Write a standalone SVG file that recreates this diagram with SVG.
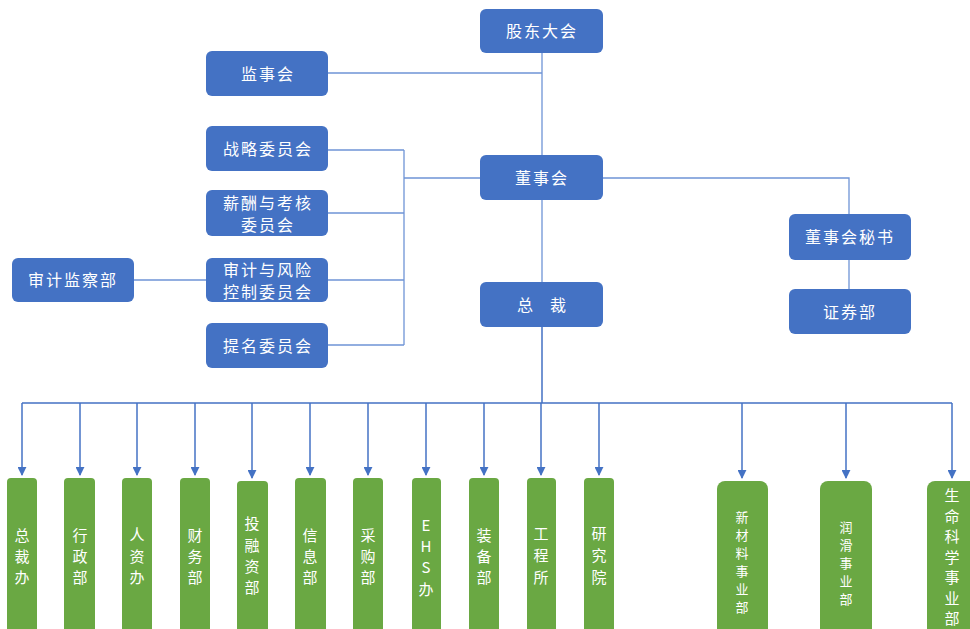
<svg xmlns="http://www.w3.org/2000/svg" width="970" height="629" viewBox="0 0 970 629">
<style>
.b{fill:#4472c4}
.g{fill:#6aa843}
.t{fill:#fff;font-family:"Noto Sans CJK SC","Noto Sans",sans-serif;font-size:16px;letter-spacing:2px;text-anchor:middle}
.v{fill:#fff;font-family:"Noto Sans CJK SC","Noto Sans",sans-serif;font-size:15px;text-anchor:middle}
.s{font-size:13px}
.l{stroke:#6f94d6;stroke-width:1.3;fill:none}
.a{stroke:#4472c4;stroke-width:1.5;fill:none}
</style>
<defs>
<marker id="ar" viewBox="0 0 10 10" refX="9" refY="5" markerWidth="9" markerHeight="9" markerUnits="userSpaceOnUse" orient="auto"><path d="M0,0L10,5L0,10z" fill="#4472c4"/></marker>
</defs>
<rect width="970" height="629" fill="#fff"/>
<g id="connectors">
<path class="l" d="M542,53V155M328,73H542M328,150H404M328,213H404M328,280H404M328,345H404M404,150V345M404,178H480M603,178H849V214M849,260V289M134,280H206M542,200V282"/>
<path class="a" d="M542,327V403M22,403H952"/>
<g class="a" marker-end="url(#ar)">
<path d="M22,403V475"/><path d="M80,403V475"/><path d="M137,403V475"/><path d="M195,403V475"/><path d="M252,403V478"/><path d="M310,403V475"/><path d="M368,403V475"/><path d="M426,403V475"/><path d="M484,403V475"/><path d="M541,403V475"/><path d="M599,403V475"/><path d="M742,403V478"/><path d="M846,403V478"/><path d="M952,403V478"/>
</g>
</g>
<g id="gudong"><rect class="b" x="480" y="9" width="123" height="44" rx="6"/><text class="t" x="542" y="37">股东大会</text></g>
<g id="jianshi"><rect class="b" x="206" y="51" width="122" height="45" rx="6"/><text class="t" x="268" y="80">监事会</text></g>
<g id="zhanlue"><rect class="b" x="206" y="126" width="122" height="45" rx="6"/><text class="t" x="268" y="155">战略委员会</text></g>
<g id="dongshi"><rect class="b" x="480" y="155" width="123" height="45" rx="6"/><text class="t" x="542" y="184">董事会</text></g>
<g id="xinchou"><rect class="b" x="206" y="190" width="122" height="46" rx="6"/><text class="t" x="268" y="209">薪酬与考核</text><text class="t" x="268" y="231">委员会</text></g>
<g id="shenjijiancha"><rect class="b" x="12" y="258" width="122" height="44" rx="6"/><text class="t" x="73" y="286">审计监察部</text></g>
<g id="shenjifengxian"><rect class="b" x="206" y="258" width="122" height="44" rx="6"/><text class="t" x="268" y="276">审计与风险</text><text class="t" x="268" y="298">控制委员会</text></g>
<g id="timing"><rect class="b" x="206" y="323" width="122" height="45" rx="6"/><text class="t" x="268" y="352">提名委员会</text></g>
<g id="zongcai"><rect class="b" x="480" y="282" width="123" height="45" rx="6"/><text class="t" y="311"><tspan x="526">总</tspan><tspan x="559">裁</tspan></text></g>
<g id="mishu"><rect class="b" x="789" y="214" width="122" height="46" rx="6"/><text class="t" x="850" y="243">董事会秘书</text></g>
<g id="zhengquan"><rect class="b" x="789" y="289" width="122" height="45" rx="6"/><text class="t" x="850" y="318">证券部</text></g>
<g id="d1"><rect class="g" x="7" y="478" width="30" height="160" rx="4"/><text class="v"><tspan x="22" y="541">总</tspan><tspan x="22" dy="21">裁</tspan><tspan x="22" dy="21">办</tspan></text></g>
<g id="d2"><rect class="g" x="64" y="478" width="31" height="160" rx="4"/><text class="v"><tspan x="80" y="541">行</tspan><tspan x="80" dy="21">政</tspan><tspan x="80" dy="21">部</tspan></text></g>
<g id="d3"><rect class="g" x="122" y="478" width="30" height="160" rx="4"/><text class="v"><tspan x="137" y="540">人</tspan><tspan x="137" dy="22">资</tspan><tspan x="137" dy="21">办</tspan></text></g>
<g id="d4"><rect class="g" x="180" y="478" width="30" height="160" rx="4"/><text class="v"><tspan x="195" y="541">财</tspan><tspan x="195" dy="21">务</tspan><tspan x="195" dy="21">部</tspan></text></g>
<g id="d5"><rect class="g" x="237" y="481" width="31" height="160" rx="4"/><text class="v"><tspan x="252" y="529">投</tspan><tspan x="252" dy="22">融</tspan><tspan x="252" dy="21">资</tspan><tspan x="252" dy="21">部</tspan></text></g>
<g id="d6"><rect class="g" x="295" y="478" width="31" height="160" rx="4"/><text class="v"><tspan x="310" y="541">信</tspan><tspan x="310" dy="21">息</tspan><tspan x="310" dy="21">部</tspan></text></g>
<g id="d7"><rect class="g" x="353" y="478" width="30" height="160" rx="4"/><text class="v"><tspan x="368" y="541">采</tspan><tspan x="368" dy="21">购</tspan><tspan x="368" dy="21">部</tspan></text></g>
<g id="d8"><rect class="g" x="412" y="478" width="29" height="160" rx="4"/><text class="v"><tspan x="426" y="531">E</tspan><tspan x="426" dy="21">H</tspan><tspan x="426" dy="21">S</tspan><tspan x="426" dy="22">办</tspan></text></g>
<g id="d9"><rect class="g" x="469" y="478" width="30" height="160" rx="4"/><text class="v"><tspan x="484" y="541">装</tspan><tspan x="484" dy="21">备</tspan><tspan x="484" dy="21">部</tspan></text></g>
<g id="d10"><rect class="g" x="527" y="478" width="29" height="160" rx="4"/><text class="v"><tspan x="541" y="539">工</tspan><tspan x="541" dy="22">程</tspan><tspan x="541" dy="22">所</tspan></text></g>
<g id="d11"><rect class="g" x="584" y="478" width="30" height="160" rx="4"/><text class="v"><tspan x="599" y="539">研</tspan><tspan x="599" dy="22">究</tspan><tspan x="599" dy="22">院</tspan></text></g>
<g id="d12"><rect class="g" x="717" y="481" width="51" height="160" rx="8"/><text class="v s"><tspan x="742" y="522">新</tspan><tspan x="742" dy="18">材</tspan><tspan x="742" dy="18">料</tspan><tspan x="742" dy="18">事</tspan><tspan x="742" dy="18">业</tspan><tspan x="742" dy="18">部</tspan></text></g>
<g id="d13"><rect class="g" x="820" y="481" width="52" height="160" rx="8"/><text class="v s"><tspan x="846" y="532">润</tspan><tspan x="846" dy="18">滑</tspan><tspan x="846" dy="18">事</tspan><tspan x="846" dy="18">业</tspan><tspan x="846" dy="18">部</tspan></text></g>
<g id="d14"><rect class="g" x="927" y="481" width="60" height="160" rx="8"/><text class="v"><tspan x="952" y="501">生</tspan><tspan x="952" dy="20.5">命</tspan><tspan x="952" dy="20.5">科</tspan><tspan x="952" dy="20.5">学</tspan><tspan x="952" dy="20.5">事</tspan><tspan x="952" dy="20.5">业</tspan><tspan x="952" dy="20.5">部</tspan></text></g>
</svg>
